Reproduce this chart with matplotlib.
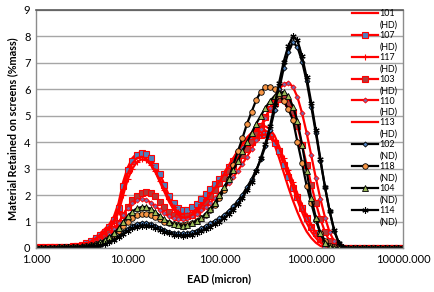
import matplotlib
matplotlib.use("Agg")
import matplotlib.pyplot as plt
from matplotlib.ticker import FixedLocator, FixedFormatter, NullLocator
from matplotlib.transforms import IdentityTransform

plt.rcParams['font.family'] = ['Lato', 'DejaVu Sans']

# sieve sizes (micron)
ead = [1.000, 1.122, 1.259, 1.413, 1.585, 1.778, 1.995, 2.239, 2.512, 2.818,
       3.162, 3.548, 3.981, 4.467, 5.012, 5.623, 6.310, 7.079, 7.943, 8.913,
       10.00, 11.22, 12.59, 14.13, 15.85, 17.78, 19.95, 22.39, 25.12, 28.18,
       31.62, 35.48, 39.81, 44.67, 50.12, 56.23, 63.10, 70.79, 79.43, 89.13,
       100.0, 112.2, 125.9, 141.3, 158.5, 177.8, 199.5, 223.9, 251.2, 281.8,
       316.2, 354.8, 398.1, 446.7, 501.2, 562.3, 631.0, 707.9, 794.3, 891.3,
       1000, 1122, 1259, 1413, 1585, 1778, 1995, 2239, 2512, 2818,
       3162, 3548, 3981, 4467, 5012, 5623, 6310, 7079, 7943, 8913,
       10000]

s101 = [0.02, 0.03, 0.03, 0.03, 0.04, 0.04, 0.05, 0.06, 0.08, 0.1,
        0.14, 0.2, 0.3, 0.42, 0.56, 0.72, 0.9, 1.2, 1.7, 2.5,
        3.05, 3.4, 3.58, 3.62, 3.52, 3.3, 2.98, 2.6, 2.2, 1.8,
        1.5, 1.3, 1.22, 1.25, 1.35, 1.5, 1.7, 1.9, 2.12, 2.35,
        2.58, 2.85, 3.12, 3.4, 3.68, 3.95, 4.18, 4.35, 4.45, 4.5,
        4.45, 4.25, 3.9, 3.4, 2.85, 2.3, 1.8, 1.35, 0.95, 0.62,
        0.38, 0.2, 0.08, 0.02, 0, 0, 0, 0, 0, 0,
        0, 0, 0, 0, 0, 0, 0, 0, 0, 0, 0]
s107 = [0.02, 0.02, 0.02, 0.02, 0.03, 0.03, 0.04, 0.05, 0.06, 0.08,
        0.12, 0.18, 0.27, 0.38, 0.5, 0.62, 0.8, 1.05, 1.5, 2.35,
        2.95, 3.3, 3.5, 3.58, 3.55, 3.4, 3.1, 2.8, 2.4, 1.98,
        1.7, 1.5, 1.44, 1.45, 1.55, 1.68, 1.85, 2.05, 2.25, 2.42,
        2.6, 2.8, 3.05, 3.3, 3.55, 3.78, 3.95, 4.1, 4.2, 4.28,
        4.32, 4.22, 3.98, 3.65, 3.15, 2.7, 2.27, 1.92, 1.5, 1.15,
        0.8, 0.55, 0.33, 0.12, 0.04, 0, 0, 0, 0, 0,
        0, 0, 0, 0, 0, 0, 0, 0, 0, 0, 0]
s117 = [0.02, 0.02, 0.02, 0.02, 0.03, 0.03, 0.04, 0.05, 0.06, 0.07,
        0.1, 0.15, 0.22, 0.32, 0.44, 0.58, 0.74, 0.95, 1.35, 2.0,
        2.6, 3.0, 3.25, 3.35, 3.32, 3.15, 2.9, 2.55, 2.2, 1.85,
        1.55, 1.35, 1.25, 1.25, 1.32, 1.45, 1.6, 1.78, 1.98, 2.2,
        2.42, 2.65, 2.9, 3.15, 3.4, 3.65, 3.88, 4.05, 4.18, 4.27,
        4.3, 4.22, 4.05, 3.78, 3.4, 2.95, 2.5, 2.05, 1.62, 1.22,
        0.88, 0.58, 0.34, 0.16, 0.06, 0.02, 0, 0, 0, 0,
        0, 0, 0, 0, 0, 0, 0, 0, 0, 0, 0]
s103 = [0.01, 0.01, 0.01, 0.02, 0.02, 0.02, 0.03, 0.04, 0.05, 0.06,
        0.08, 0.12, 0.17, 0.24, 0.32, 0.42, 0.55, 0.72, 0.95, 1.25,
        1.55, 1.8, 1.98, 2.08, 2.12, 2.08, 1.95, 1.75, 1.55, 1.38,
        1.25, 1.18, 1.18, 1.2, 1.25, 1.38, 1.55, 1.75, 1.98, 2.2,
        2.45, 2.65, 2.9, 3.1, 3.3, 3.5, 3.75, 4.0, 4.3, 4.6,
        4.95, 5.25, 5.5, 5.65, 5.68, 5.5, 5.15, 4.6, 3.9, 3.15,
        2.4, 1.7, 1.1, 0.6, 0.25, 0.08, 0.02, 0, 0, 0,
        0, 0, 0, 0, 0, 0, 0, 0, 0, 0, 0]
s110 = [0.01, 0.01, 0.01, 0.02, 0.02, 0.02, 0.03, 0.04, 0.05, 0.06,
        0.07, 0.1, 0.15, 0.21, 0.29, 0.39, 0.52, 0.7, 0.95, 1.25,
        1.52, 1.72, 1.83, 1.86, 1.82, 1.72, 1.58, 1.45, 1.32, 1.2,
        1.12, 1.08, 1.08, 1.12, 1.2, 1.3, 1.42, 1.56, 1.72, 1.88,
        2.05, 2.25, 2.45, 2.68, 2.92, 3.18, 3.45, 3.75, 4.1, 4.5,
        4.9, 5.3, 5.7, 6.0, 6.2, 6.25, 6.1, 5.7, 5.1, 4.35,
        3.5, 2.65, 1.85, 1.15, 0.6, 0.25, 0.08, 0.02, 0, 0,
        0, 0, 0, 0, 0, 0, 0, 0, 0, 0, 0]
s113 = [0.02, 0.02, 0.03, 0.03, 0.03, 0.04, 0.05, 0.06, 0.07, 0.09,
        0.12, 0.17, 0.25, 0.36, 0.5, 0.65, 0.82, 1.05, 1.5, 2.2,
        2.8, 3.2, 3.4, 3.45, 3.38, 3.18, 2.88, 2.5, 2.12, 1.75,
        1.45, 1.25, 1.15, 1.15, 1.25, 1.4, 1.58, 1.8, 2.02, 2.27,
        2.52, 2.8, 3.08, 3.37, 3.65, 3.92, 4.15, 4.35, 4.5, 4.58,
        4.6, 4.5, 4.25, 3.85, 3.35, 2.8, 2.28, 1.8, 1.35, 0.95,
        0.62, 0.38, 0.2, 0.08, 0.02, 0, 0, 0, 0, 0,
        0, 0, 0, 0, 0, 0, 0, 0, 0, 0, 0]
s102 = [0.0, 0.0, 0.01, 0.01, 0.01, 0.02, 0.02, 0.02, 0.03, 0.03,
        0.04, 0.05, 0.07, 0.1, 0.13, 0.18, 0.25, 0.34, 0.46, 0.6,
        0.73, 0.84, 0.91, 0.95, 0.95, 0.91, 0.85, 0.77, 0.69, 0.62,
        0.58, 0.55, 0.55, 0.56, 0.6, 0.66, 0.74, 0.83, 0.93, 1.03,
        1.12, 1.25, 1.4, 1.58, 1.78, 2.02, 2.3, 2.6, 2.95, 3.35,
        3.85, 4.45, 5.2, 6.0, 6.8, 7.4, 7.78, 7.6, 7.05, 6.3,
        5.35, 4.35, 3.3, 2.3, 1.4, 0.65, 0.18, 0.03, 0, 0,
        0, 0, 0, 0, 0, 0, 0, 0, 0, 0, 0]
s118 = [0.0, 0.0, 0.01, 0.01, 0.01, 0.02, 0.02, 0.03, 0.03, 0.04,
        0.05, 0.07, 0.1, 0.14, 0.19, 0.26, 0.36, 0.49, 0.65, 0.83,
        1.0, 1.14, 1.24, 1.3, 1.3, 1.25, 1.17, 1.08, 0.99, 0.93,
        0.9, 0.88, 0.88, 0.9, 0.95, 1.02, 1.12, 1.25, 1.42, 1.62,
        1.88, 2.2, 2.6, 3.15, 3.65, 4.15, 4.7, 5.15, 5.6, 5.9,
        6.08, 6.1, 6.0, 5.8, 5.55, 5.25, 4.85, 4.0, 3.2, 2.35,
        1.7, 1.05, 0.55, 0.28, 0.08, 0.02, 0, 0, 0, 0,
        0, 0, 0, 0, 0, 0, 0, 0, 0, 0, 0]
s104 = [0.0, 0.0, 0.01, 0.01, 0.01, 0.02, 0.02, 0.03, 0.04, 0.05,
        0.06, 0.08, 0.11, 0.15, 0.21, 0.29, 0.4, 0.55, 0.75, 0.98,
        1.2, 1.38, 1.5, 1.55, 1.55, 1.48, 1.36, 1.22, 1.08, 0.97,
        0.9, 0.86, 0.85, 0.87, 0.93, 1.03, 1.12, 1.28, 1.47, 1.72,
        2.0, 2.3, 2.62, 2.95, 3.3, 3.65, 4.0, 4.35, 4.7, 5.0,
        5.3, 5.55, 5.75, 5.87, 5.9, 5.75, 5.35, 4.8, 3.9, 2.9,
        1.9, 1.15, 0.55, 0.2, 0.05, 0.01, 0, 0, 0, 0,
        0, 0, 0, 0, 0, 0, 0, 0, 0, 0, 0]
s114 = [0.0, 0.0, 0.0, 0.01, 0.01, 0.01, 0.02, 0.02, 0.03, 0.03,
        0.03, 0.04, 0.06, 0.08, 0.11, 0.15, 0.21, 0.29, 0.4, 0.52,
        0.64, 0.74, 0.81, 0.85, 0.85, 0.82, 0.76, 0.69, 0.62, 0.56,
        0.51, 0.48, 0.47, 0.48, 0.51, 0.56, 0.63, 0.71, 0.8, 0.9,
        1.0, 1.12, 1.27, 1.45, 1.66, 1.9, 2.18, 2.5, 2.9, 3.4,
        3.95, 4.6, 5.4, 6.25, 7.05, 7.65, 8.0, 7.85, 7.25, 6.45,
        5.5, 4.45, 3.35, 2.3, 1.4, 0.68, 0.2, 0.04, 0, 0,
        0, 0, 0, 0, 0, 0, 0, 0, 0, 0, 0]

ids = ['101', '107', '117', '103', '110', '113', '102', '118', '104', '114']
groups = ['(HD)', '(HD)', '(HD)', '(HD)', '(HD)', '(HD)', '(ND)', '(ND)', '(ND)', '(ND)']
series = [s101, s107, s117, s103, s110, s113, s102, s118, s104, s114]

xticks = [1, 10, 100, 1000, 10000]
xticklabels = ['1.000', '10.000', '100.000', '1000.000', '10000.000']
yticks = [0, 1, 2, 3, 4, 5, 6, 7, 8, 9]

red = '#FF0000'
blk = '#000000'
styles = [
    dict(color=red, marker=None),
    dict(color=red, marker='s', ms=4.2, mfc='#4F81BD', mec=red, mew=0.8),
    dict(color=red, marker='+', ms=4.5, mec=red, mew=0.8),
    dict(color=red, marker='s', ms=4.2, mfc='#B03A3A', mec=red, mew=0.8),
    dict(color=red, marker='D', ms=2.6, mfc='#8064A2', mec=red, mew=0.6),
    dict(color=red, marker=None),
    dict(color=blk, marker='D', ms=2.6, mfc='#4F81BD', mec=blk, mew=0.6),
    dict(color=blk, marker='o', ms=4.0, mfc='#F79646', mec=blk, mew=0.6),
    dict(color=blk, marker='^', ms=4.0, mfc='#9BBB59', mec=blk, mew=0.6),
    dict(color=blk, marker=(6, 2, 0), ms=4.5, mec=blk, mew=0.8),
]

fig = plt.figure(figsize=(4.34, 2.92), dpi=100)
ax = fig.add_axes([36 / 434, 1 - 248 / 292, (403 - 36) / 434, (248 - 10) / 292])

for y, lab, st in zip(series, ids, styles):
    assert len(y) == len(ead)
    ax.plot(ead, y, lw=1.6, label=lab, **st)

ax.set_xscale('log')
ax.set_xlim(1, 10000)
ax.set_ylim(0, 9)
ax.xaxis.set_major_locator(FixedLocator(xticks))
ax.xaxis.set_major_formatter(FixedFormatter(xticklabels))
ax.xaxis.set_minor_locator(NullLocator())
ax.set_yticks(yticks)
ax.tick_params(axis='both', length=0, labelsize=8, pad=4)
ax.grid(axis='y', color='#A6A6A6', lw=1.0)
ax.set_axisbelow(True)
for side in ['left', 'bottom', 'right']:
    ax.spines[side].set_color('#8C8C8C')
    ax.spines[side].set_linewidth(1.0)
ax.spines['top'].set_color('#595959')
ax.spines['top'].set_linewidth(1.2)

ax.set_xlabel('EAD (micron)', fontsize=7.8, fontweight='bold', labelpad=6)
ax.set_ylabel('Material Retained on screens (%mass)', fontsize=7.8,
              fontweight='bold', labelpad=4)

leg_fs = 6.4
leg = ax.legend(loc='upper left', bbox_to_anchor=(352 / 434, 1 - 9 / 292),
                bbox_transform=fig.transFigure, frameon=False, fontsize=leg_fs,
                handlelength=2.9, handletextpad=0.2, labelspacing=1.45,
                borderpad=0, borderaxespad=0, numpoints=1)

# second line of each legend label, placed under its first line
fig.canvas.draw()
for t, g in zip(leg.get_texts(), groups):
    bb = t.get_window_extent()
    fig.text(bb.x0, bb.y0 - 11.5, g, fontsize=leg_fs,
             transform=IdentityTransform(), ha='left', va='bottom')

fig.savefig('out.png', dpi=100)
